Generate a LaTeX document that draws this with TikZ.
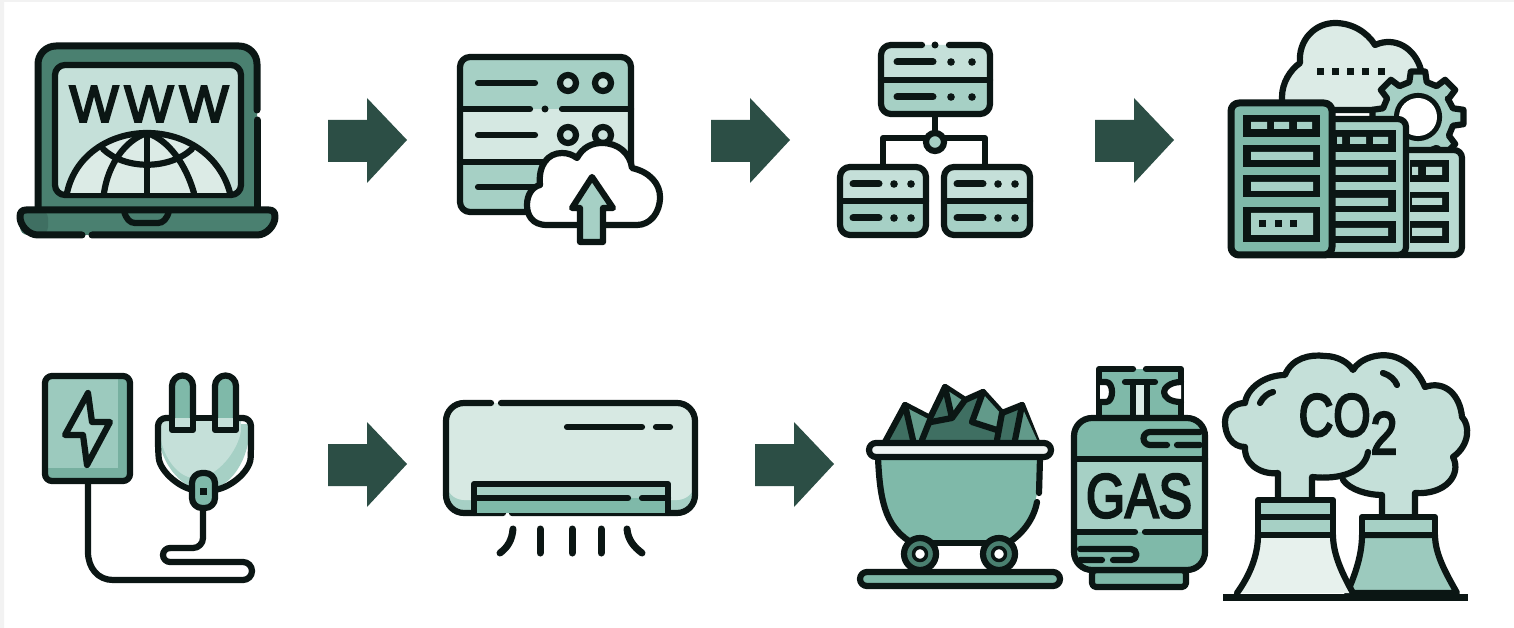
\documentclass[tikz,border=0pt]{standalone}
\usepackage{fontspec}
\newfontfamily\iconfont[FakeBold=4]{Liberation Sans}
\usetikzlibrary{arrows.meta, positioning}
\definecolor{inkcol}{HTML}{0B1614}
\definecolor{arrowcol}{HTML}{2C4E45}
\definecolor{darkcol}{HTML}{4A8070}
\definecolor{shadecol}{HTML}{3F6F62}
\definecolor{midcol}{HTML}{7FB9A9}
\definecolor{softcol}{HTML}{A6D0C5}
\definecolor{palecol}{HTML}{C5E0D9}
\definecolor{lightcol}{HTML}{DCEBE6}

\begin{document}
\begin{tikzpicture}[x=1pt,y=-1pt,
        ink/.style={draw=inkcol,line width=6.2pt,line cap=round,line join=round},
        label ink/.style={text=inkcol,inner sep=0pt,font=\iconfont}]
    \useasboundingbox (0,0) rectangle (1514,628);
    \fill[white] (0,0) rectangle (1514,628);
    \fill[black!5] (0,0) rectangle (1514,2) (0,0) rectangle (4,628);

    % block arrows
    \foreach \dx/\dy in {0/0,383/0,767/0,0/324,427/324}
      \fill[arrowcol,shift={(\dx,\dy)}] (328,120) -- (367,120) -- (367,98) -- (407,140) -- (367,183) -- (367,162) -- (328,162) -- cycle;

    % laptop
    \fill[darkcol,rounded corners=18pt] (38,215) -- (38,46) -- (257,46) -- (257,215) -- cycle;
    \draw[ink,line width=7pt,rounded corners=18pt] (257,110) -- (257,46) -- (38,46) -- (38,210);
    \draw[ink,line width=7pt] (257,120) -- (257,210);
    \draw[ink,fill=palecol,rounded corners=10pt] (55,65) rectangle (241,195);
    \fill[lightcol] (67,193) .. controls (75,155) and (110,133) .. (147,133) .. controls (185,133) and (220,155) .. (230,193) -- cycle;
    \draw[ink] (67,193) .. controls (75,155) and (110,133) .. (147,133) .. controls (185,133) and (220,155) .. (230,193);
    \draw[ink] (147,133) -- (147,193);
    \draw[ink] (104,193) .. controls (108,165) and (125,140) .. (147,133) .. controls (169,140) and (186,165) .. (194,193);
    \draw[ink] (103,149) .. controls (125,170) and (169,170) .. (192,149);
    \node[label ink,font=\iconfont\fontsize{52}{52}\selectfont] (wwwa) at (94,104) {W};
    \node[label ink,font=\iconfont\fontsize{52}{52}\selectfont] (wwwb) at (149,104) {W};
    \node[label ink,font=\iconfont\fontsize{52}{52}\selectfont] (wwwc) at (204,104) {W};
    \fill[darkcol,rounded corners=11pt] (20,210) -- (275,210) -- (275,235) -- (20,235) -- cycle;
    \fill[shadecol,rounded corners=8pt] (20,210) -- (48,210) -- (48,235) -- (20,235) -- cycle;
    \draw[ink,line width=7pt] (82,235) -- (38,235) .. controls (28,235) and (20,225) .. (20,217) .. controls (20,212) and (22,210) .. (26,210) -- (269,210) .. controls (273,210) and (275,212) .. (275,217) .. controls (275,225) and (267,235) .. (257,235) -- (92,235);
    \draw[ink] (124,211) .. controls (126,219) and (130,223) .. (135,223) -- (158,223) .. controls (163,223) and (167,219) .. (169,211);

    % server with upload cloud
    \fill[softcol,rounded corners=8pt] (460,57) rectangle (631,109);
    \fill[lightcol!70!palecol] (460,109) rectangle (631,162);
    \fill[softcol,rounded corners=8pt] (460,162) rectangle (631,212);
    \draw[ink,rounded corners=10pt] (460,109) -- (460,57) -- (631,57) -- (631,212) -- (460,212) -- cycle;
    \draw[ink] (460,109) -- (530,109) (562,109) -- (631,109) (460,162) -- (631,162);
    \fill[inkcol] (545,109) circle (3.5);
    \foreach \yrow in {83,135}{
      \draw[ink] (478,\yrow) -- (535,\yrow);
      \draw[ink,fill=softcol!60!white] (568,\yrow) circle (8);
      \draw[ink,fill=softcol!60!white] (603,\yrow) circle (8);
    }
    \draw[ink] (478,187) -- (535,187);
    \draw[ink,fill=white] (577,225) -- (547,225) .. controls (532,225) and (527,215) .. (527,205) .. controls (527,195) and (532,187) .. (540,185) .. controls (538,165) and (548,153) .. (562,153) .. controls (568,153) and (573,155) .. (577,158) .. controls (583,147) and (592,143) .. (602,143) .. controls (618,143) and (630,153) .. (632,168) .. controls (650,172) and (660,184) .. (660,197) .. controls (660,213) and (650,225) .. (637,225) -- (605,225);
    \draw[ink,fill=softcol] (592,177) -- (613,208) -- (603,208) -- (603,242) -- (580,242) -- (580,208) -- (572,208) -- cycle;

    % server tree
    \draw[ink] (935,114) -- (935,142);
    \draw[ink] (883,165) -- (883,138) -- (985,138) -- (985,165);
    \draw[ink,fill=softcol] (935,142) circle (9);
    \fill[palecol,rounded corners=8pt] (881,45) rectangle (990,80);
    \fill[softcol,rounded corners=8pt] (881,80) rectangle (990,114);
    \draw[ink,rounded corners=10pt] (922,45) -- (881,45) -- (881,114) -- (990,114) -- (990,45) -- (949,45);
    \draw[ink] (881,80) -- (990,80);
    \fill[inkcol] (935,45) circle (3.5);
    \foreach \yrow in {62,97}{
      \draw[ink,line width=7pt] (897,\yrow) -- (933,\yrow);
      \fill[inkcol] (951,\yrow) circle (3.8) (972,\yrow) circle (3.8);
    }
    \foreach \dx in {0,104}{
      \begin{scope}[shift={(\dx,0)}]
        \fill[palecol,rounded corners=8pt] (840,167) rectangle (926,201);
        \fill[softcol,rounded corners=8pt] (840,201) rectangle (926,235);
        \draw[ink,rounded corners=10pt] (840,167) rectangle (926,235);
        \draw[ink] (840,201) -- (926,201);
        \foreach \yrow in {184,218}{
          \draw[ink,line width=7pt] (853,\yrow) -- (879,\yrow);
          \fill[inkcol] (894,\yrow) circle (3.8) (911,\yrow) circle (3.8);
        }
      \end{scope}
    }

    % cloud data centre
    \draw[ink,fill=lightcol] (1282,110) -- (1282,97) .. controls (1282,83) and (1290,70) .. (1300,63) .. controls (1298,40) and (1315,23) .. (1335,23) .. controls (1352,23) and (1367,32) .. (1375,45) .. controls (1395,36) and (1415,48) .. (1421,70) -- (1421,110) -- cycle;
    \foreach \xdot in {1320,1335,1350,1365,1381}
      \fill[inkcol] (\xdot-3.5,68.5) rectangle (\xdot+3.5,75.5);
    \begin{scope}[shift={(1418,117)}]
      \draw[ink,fill=softcol,even odd rule] (-32:35) \foreach \a in {0,45,...,315}{ -- (\a-14:36) -- (\a-9:46) -- (\a+9:46) -- (\a+14:36) } -- cycle (0,0) circle (21);
      \fill[white] (0,0) circle (19);
    \end{scope}
    % buildings, back to front
    \fill[softcol!80!white,rounded corners=6pt] (1400,150) rectangle (1462,255);
    \draw[ink,rounded corners=8pt] (1400,150) -- (1462,150) -- (1462,255) -- (1400,255);
    \fill[softcol,rounded corners=6pt] (1325,119) rectangle (1406,255);
    \draw[ink,rounded corners=8pt] (1325,119) -- (1406,119) -- (1406,255) -- (1325,255);
    \foreach \ytop/\ybot in {160/182,192/212,221/243}
      \fill[inkcol] (1410,\ytop) rectangle (1449,\ybot);
    \fill[softcol!80!white] (1412,167) rectangle (1418,175) (1426,167) rectangle (1442,175) (1412,198) rectangle (1442,205) (1412,228) rectangle (1442,236);
    \foreach \ytop/\ybot in {130/152,160/182,190/212,221/243}
      \fill[inkcol] (1333,\ytop) rectangle (1396,\ybot);
    \fill[softcol] (1337,137) rectangle (1342,144) (1350,137) rectangle (1366,144) (1373,137) rectangle (1388,144) (1335,167) rectangle (1388,175) (1335,198) rectangle (1388,206) (1335,228) rectangle (1388,236);
    \draw[ink,line width=7pt,fill=midcol,rounded corners=8pt] (1231,103) rectangle (1332,255);
    \foreach \ytop/\ybot in {115/137,145/167,175/197,207/242}
      \fill[inkcol] (1243,\ytop) rectangle (1320,\ybot);
    \fill[softcol] (1251,122) rectangle (1267,129) (1274,122) rectangle (1289,129) (1297,122) rectangle (1312,129) (1251,152) rectangle (1313,160) (1251,182) rectangle (1313,191) (1251,213) rectangle (1313,235);
    \foreach \xdot in {1262,1278,1293}
      \fill[inkcol] (\xdot-3.5,220.5) rectangle (\xdot+3.5,227.5);

    % charger and plug
    \fill[midcol!85!darkcol,rounded corners=7pt] (45,376) rectangle (130,481);
    \fill[softcol!75!midcol] (48,379) rectangle (118,468);
    \draw[ink,rounded corners=7pt] (45,376) rectangle (130,481);
    \draw[ink,fill=softcol] (88,393) -- (65,435) -- (83,435) -- (87,465) -- (110,422) -- (92,422) -- cycle;
    \draw[ink,rounded corners=10pt] (203,508) -- (203,548) -- (170,548);
    \draw[ink] (170,548) arc[start angle=270,end angle=90,radius=7] -- (243,562) arc[start angle=-90,end angle=90,radius=9] -- (113,580) .. controls (98,580) and (88,568) .. (88,552) -- (88,483);
    \draw[ink,fill=midcol] (172,430) -- (172,386) arc[start angle=180,end angle=360,radius=10.5] -- (193,430) -- cycle;
    \draw[ink,fill=midcol] (215,430) -- (215,386) arc[start angle=180,end angle=360,radius=10.5] -- (236,430) -- cycle;
    \fill[softcol] (157,424) .. controls (157,460) and (180,490) .. (205,490) .. controls (230,490) and (250,460) .. (250,424) -- cycle;
    \fill[palecol] (160,431) .. controls (160,450) and (175,478) .. (195,478) .. controls (218,478) and (238,450) .. (241,431) -- cycle;
    \fill[palecol] (160,418) rectangle (241,432);
    \draw[ink,rounded corners=8pt] (172,418) -- (158,418) -- (158,450) .. controls (160,472) and (182,490) .. (204,490) .. controls (228,490) and (250,472) .. (251,450) -- (251,418) -- (236,418);
    \draw[ink] (172,418) -- (172,430) -- (193,430) -- (193,418) (215,418) -- (215,430) -- (236,430) -- (236,418) (193,418) -- (215,418);
    \draw[ink,fill=midcol,rounded corners=10pt] (192,473) rectangle (215,508);
    \fill[inkcol] (199.5,488) rectangle (206.5,495);

    % air conditioner
    \fill[softcol,rounded corners=18pt] (446,403) rectangle (695,513);
    \fill[lightcol!80!palecol,rounded corners=18pt] (446,403) rectangle (695,500);
    \draw[ink,rounded corners=18pt] (491,403) -- (446,403) -- (446,513) -- (503,513);
    \draw[ink,rounded corners=18pt] (501,403) -- (695,403) -- (695,513) -- (512,513);
    \draw[ink] (567,427) -- (642,427) (656,427) -- (670,427);
    \fill[softcol] (474,484) rectangle (668,498);
    \fill[midcol] (474,498) rectangle (668,513);
    \draw[ink] (474,513) -- (474,484) -- (668,484) -- (668,513);
    \draw[ink] (474,498) -- (628,498) (642,498) -- (668,498);
    \draw[ink,line width=7pt] (513,529) .. controls (512,540) and (508,547) .. (500,553);
    \draw[ink,line width=7pt] (540,529) -- (540,553) (572,529) -- (572,553) (601,529) -- (601,553);
    \draw[ink,line width=7pt] (627,529) .. controls (628,540) and (634,547) .. (642,553);

    % coal cart
    \draw[ink,fill=shadecol] (885,442) -- (905,405) -- (930,418) -- (945,387) -- (965,400) -- (983,392) -- (1002,413) -- (1022,405) -- (1037,442);
    \fill[midcol!45!darkcol] (913,440) -- (905,407) -- (930,420) -- (922,440) -- cycle (945,389) -- (965,402) -- (952,418) -- cycle (983,394) -- (1002,415) -- (997,430) -- (972,422) -- cycle (1022,407) -- (1037,440) -- (1015,440) -- cycle;
    \draw[ink] (905,405) -- (913,440) (930,420) -- (922,440) (945,387) -- (952,418) -- (931,422) (952,418) -- (965,400) (983,392) -- (972,422) -- (997,430) (1002,413) -- (997,440) (1022,405) -- (1015,440);
    \fill[midcol] (878,458) .. controls (880,500) and (885,525) .. (907,540) -- (1013,540) .. controls (1030,525) and (1040,500) .. (1040,458) -- cycle;
    \draw[ink] (878,458) .. controls (880,500) and (885,525) .. (909,541);
    \draw[ink] (1011,541) .. controls (1024,532) and (1034,518) .. (1037,502);
    \draw[ink] (1039,493) -- (1040,458);
    \draw[ink] (909,543) -- (1011,543);
    \draw[ink,fill=lightcol!40!white,rounded corners=7pt] (869,443) rectangle (1051,457);
    \foreach \xwheel in {920,999}{
      \draw[ink,fill=darkcol] (\xwheel,554) circle (16);
      \draw[ink,line width=3.5pt,fill=white] (\xwheel,554) circle (6.5);
    }
    \draw[ink,fill=midcol,rounded corners=7pt] (860,572) rectangle (1060,586);

    % gas bottle
    \draw[ink,fill=midcol] (1133,369) -- (1099,369) -- (1099,418) -- (1181,418) -- (1181,369) -- (1146,369);
    \fill[lightcol] (1133,382) rectangle (1147,415);
    \draw[ink,fill=white] (1100,382) -- (1106,382) .. controls (1114,382) and (1114,402) .. (1106,402) -- (1100,402);
    \draw[ink,fill=white] (1181,382) .. controls (1170,382) and (1164,388) .. (1164,392) .. controls (1164,397) and (1170,402) .. (1181,402);
    \draw[ink] (1125,382) -- (1155,382) (1133,382) -- (1133,418) (1147,382) -- (1147,418);
    \draw[ink,fill=midcol,rounded corners=4pt] (1092,570) rectangle (1186,587);
    \fill[midcol,rounded corners=18pt] (1074,418) rectangle (1205,570);
    \fill[softcol] (1074,459) rectangle (1205,532);
    \draw[ink,rounded corners=18pt] (1074,418) rectangle (1205,570);
    \draw[ink] (1074,459) -- (1205,459) (1074,532) -- (1135,532) (1145,532) -- (1205,532);
    \draw[ink] (1200,432) -- (1150,432) arc[start angle=270,end angle=90,radius=6.5] -- (1167,445) (1177,445) -- (1200,445);
    \draw[ink] (1080,549) -- (1131,549) arc[start angle=-90,end angle=90,radius=5.5] -- (1113,560) (1102,560) -- (1080,560);
    \node[label ink,font=\iconfont\fontsize{62}{62}\selectfont,xscale=.81,transform shape] (gas) at (1139,496) {GAS};

    % cooling towers
    \fill[palecol] (1278,500) -- (1278,473) .. controls (1262,475) and (1244,465) .. (1245,447) .. controls (1232,447) and (1225,435) .. (1225,422) .. controls (1225,410) and (1235,403) .. (1245,403) .. controls (1247,388) and (1265,375) .. (1285,375) .. controls (1292,358) and (1310,354) .. (1325,356) .. controls (1337,356) and (1348,362) .. (1353,370) .. controls (1360,358) and (1380,352) .. (1395,357) .. controls (1410,362) and (1420,375) .. (1425,387) .. controls (1445,380) and (1460,395) .. (1462,417) .. controls (1470,425) and (1470,445) .. (1453,457) .. controls (1462,475) and (1445,495) .. (1415,493) -- (1415,517) -- (1382,517) -- (1382,495) .. controls (1368,495) and (1350,490) .. (1343,480) -- (1312,477) -- (1312,500) -- cycle;
    \draw[ink] (1278,500) -- (1278,473) .. controls (1262,475) and (1244,465) .. (1245,447) .. controls (1232,447) and (1225,435) .. (1225,422) .. controls (1225,410) and (1235,403) .. (1245,403) .. controls (1247,388) and (1265,375) .. (1285,375) .. controls (1292,358) and (1310,354) .. (1325,356) .. controls (1337,356) and (1348,362) .. (1353,370) .. controls (1360,358) and (1380,352) .. (1395,357) .. controls (1410,362) and (1420,375) .. (1425,387) .. controls (1445,380) and (1460,395) .. (1462,417) .. controls (1470,425) and (1470,445) .. (1453,457) .. controls (1462,475) and (1445,495) .. (1415,493) -- (1415,517);
    \draw[ink] (1382,517) -- (1382,495) .. controls (1368,495) and (1350,490) .. (1343,480);
    \draw[ink] (1312,500) -- (1312,477) .. controls (1340,480) and (1365,472) .. (1368,452);
    \draw[ink] (1260,403) .. controls (1263,397) and (1268,393) .. (1273,392) (1383,373) .. controls (1390,375) and (1395,380) .. (1397,385);
    \node[label ink,font=\iconfont\fontsize{60}{60}\selectfont,xscale=.8,transform shape] (co2) at (1348,424) {CO\raisebox{-.3em}{2}};
    \draw[ink,fill=softcol!75!midcol] (1362,535) .. controls (1362,555) and (1355,575) .. (1347,593) -- (1457,593) .. controls (1447,575) and (1435,555) .. (1435,535) -- cycle;
    \draw[ink,fill=softcol] (1362,517) rectangle (1435,535);
    \fill[lightcol!70!white] (1258,535) .. controls (1258,555) and (1250,575) .. (1237,593) -- (1353,593) .. controls (1343,575) and (1333,555) .. (1333,535) -- cycle;
    \draw[ink] (1258,535) .. controls (1258,555) and (1250,575) .. (1237,593) (1353,593) .. controls (1343,575) and (1333,555) .. (1333,535);
    \draw[ink,fill=softcol] (1258,500) rectangle (1333,517);
    \draw[ink,fill=softcol] (1258,517) rectangle (1333,535);
    \draw[inkcol,line width=7pt] (1223,597) -- (1468,597);
\end{tikzpicture}
\end{document}
